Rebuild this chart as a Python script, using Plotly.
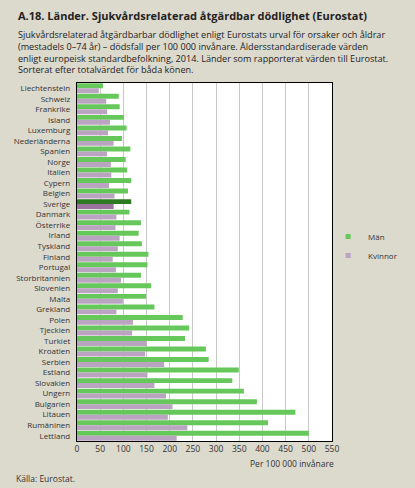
import plotly.graph_objects as go

countries = ["Liechtenstein", "Schweiz", "Frankrike", "Island", "Luxemburg", "Nederländerna",
             "Spanien", "Norge", "Italien", "Cypern", "Belgien", "Sverige", "Danmark", "Österrike",
             "Irland", "Tyskland", "Finland", "Portugal", "Storbritannien", "Slovenien", "Malta",
             "Grekland", "Polen", "Tjeckien", "Turkiet", "Kroatien", "Serbien", "Estland",
             "Slovakien", "Ungern", "Bulgarien", "Litauen", "Rumäninen", "Lettland"]
men = [56, 90, 92, 101, 107, 97, 115, 105, 108, 117, 110, 117, 113, 138, 133, 140, 154, 152,
       138, 160, 149, 167, 228, 242, 233, 278, 284, 349, 335, 360, 388, 471, 412, 500]
women = [47, 63, 65, 71, 67, 79, 65, 73, 74, 69, 81, 79, 85, 83, 92, 88, 77, 84, 95, 88, 99,
         85, 121, 119, 150, 147, 188, 152, 167, 192, 206, 196, 238, 215]
x_ticks = [0, 50, 100, 150, 200, 250, 300, 350, 400, 450, 500, 550]

GREEN = "#66c75a"
GREEN_HL = "#2d7a22"
PURPLE = "#bba4c2"
PURPLE_HL = "#9b72a0"
BG = "#dcd9cd"
FONT = "Open Sans"

men_colors = [GREEN_HL if c == "Sverige" else GREEN for c in countries]
women_colors = [PURPLE_HL if c == "Sverige" else PURPLE for c in countries]

fig = go.Figure()
fig.add_trace(go.Bar(y=countries, x=men, orientation="h", name="Män", showlegend=False,
                     marker=dict(color=men_colors, line_width=0)))
fig.add_trace(go.Bar(y=countries, x=women, orientation="h", name="Kvinnor", showlegend=False,
                     marker=dict(color=women_colors, line_width=0)))
# legend entries with small square markers
fig.add_trace(go.Scatter(x=[None], y=[None], mode="markers", name="Män",
                         marker=dict(symbol="square", size=5, color=GREEN)))
fig.add_trace(go.Scatter(x=[None], y=[None], mode="markers", name="Kvinnor",
                         marker=dict(symbol="square", size=5, color=PURPLE)))

L, R, T, B = 77, 75, 83, 47
W, H = 415, 488
pw, ph = W - L - R, H - T - B

def px(x):
    return (x - L) / pw

def py(y):
    return (H - B - y) / ph

fig.update_layout(
    width=W, height=H,
    margin=dict(l=L, r=R, t=T, b=B, pad=0),
    paper_bgcolor=BG, plot_bgcolor="white",
    barmode="group", bargap=0.06, bargroupgap=0,
    font=dict(family=FONT, size=9, color="#222"),
    showlegend=True,
    legend=dict(x=px(336), y=py(222), xanchor="left", yanchor="top",
                bgcolor="rgba(0,0,0,0)", font=dict(size=8, color="#333"),
                itemwidth=30, traceorder="normal"),
    xaxis=dict(range=[0, 550], tickvals=x_ticks, showgrid=True, gridcolor="#c8c8c8",
               gridwidth=1, showline=True, linecolor="black", linewidth=1, mirror=True,
               ticks="", zeroline=False, tickfont=dict(size=8.5, color="#333")),
    yaxis=dict(autorange="reversed", showline=True, linecolor="black", linewidth=1,
               mirror=True, ticks="", tickmode="linear", dtick=1,
               tickfont=dict(size=8, color="#333"), ticksuffix="  "),
    annotations=[
        dict(text="<b>A.18. Länder. Sjukvårdsrelaterad åtgärdbar dödlighet (Eurostat)</b>",
             x=px(14), y=py(15), xref="paper", yref="paper", xanchor="left", yanchor="middle",
             showarrow=False, font=dict(size=11, color="#222", family=FONT)),
        dict(text="Sjukvårdsrelaterad åtgärdbarbar dödlighet enligt Eurostats urval för orsaker och åldrar<br>"
                  "(mestadels 0–74 år) – dödsfall per 100 000 invånare. Åldersstandardiserade värden<br>"
                  "enligt europeisk standardbefolkning, 2014. Länder som rapporterat värden till Eurostat.<br>"
                  "Sorterat efter totalvärdet för båda könen.",
             x=px(14), y=py(26), xref="paper", yref="paper", xanchor="left", yanchor="top",
             align="left", showarrow=False, font=dict(size=9.1, color="#222", family=FONT)),
        dict(text="Per 100 000 invånare", x=px(344), y=py(463), xref="paper", yref="paper",
             xanchor="right", yanchor="middle", showarrow=False,
             font=dict(size=8.5, color="#333", family=FONT)),
        dict(text="Källa: Eurostat.", x=px(12), y=py(478), xref="paper", yref="paper",
             xanchor="left", yanchor="middle", showarrow=False,
             font=dict(size=8.5, color="#333", family=FONT)),
    ],
)

fig.write_html("out.html", config={"displayModeBar": False},
               post_script="document.body.style.margin='0';document.body.style.padding='0';")
